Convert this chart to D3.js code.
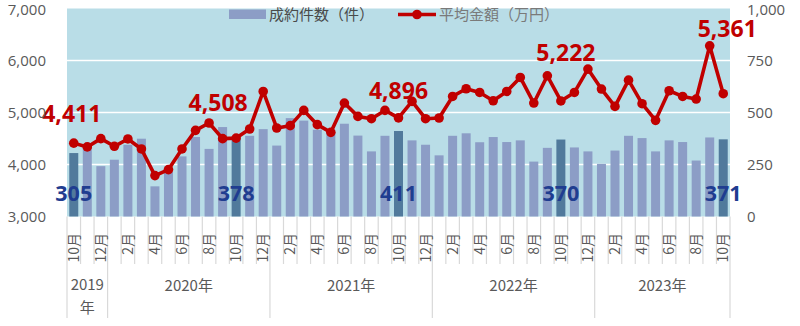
<!DOCTYPE html>
<html><head><meta charset="utf-8">
<script src="https://cdn.jsdelivr.net/npm/d3@7/dist/d3.min.js"></script>
<style>
html,body{margin:0;padding:0;background:#fff;}
svg{display:block;}
</style></head>
<body>
<svg id="chart" width="800" height="326"></svg>
<script>
const months = ["10月","11月","12月",
  "1月","2月","3月","4月","5月","6月","7月","8月","9月","10月","11月","12月",
  "1月","2月","3月","4月","5月","6月","7月","8月","9月","10月","11月","12月",
  "1月","2月","3月","4月","5月","6月","7月","8月","9月","10月","11月","12月",
  "1月","2月","3月","4月","5月","6月","7月","8月","9月","10月"];
const counts = [305,330,242,273,345,374,145,215,289,382,325,430,378,
  388,420,341,473,461,417,402,446,389,313,388,411,
  366,345,294,388,400,357,382,358,366,264,330,370,
  332,313,253,317,388,377,313,366,358,269,380,371];
const prices = [4411,4338,4497,4350,4491,4299,3787,3902,4299,4657,4798,4497,4508,
  4683,5405,4702,4747,5040,4766,4618,5182,4925,4881,5040,4896,
  5213,4881,4894,5309,5457,5386,5226,5405,5674,5182,5706,5222,
  5386,5835,5451,5117,5622,5169,4849,5418,5309,5259,6282,5361];
const yearLabels = [["2019","年"],["2020年"],["2021年"],["2022年"],["2023年"]];
const yearStarts = [0,3,15,27,39];
const leftTicks = [3000,4000,5000,6000,7000];
const rightTicks = [0,250,500,750,1000];
const highlightIdx = [0,12,24,36,48];
// label offsets (styling only)
const priceLabelOffsets = [[-2,-21],[-18,-27],[0,-19],[5,-40],[4,-57]];

const W = 800, H = 326;
const m = {left:67, right:70, top:8.5, bottom:109.5};
const x0 = m.left, x1 = W - m.right, yTop = m.top, yBot = H - m.bottom;
const svg = d3.select("#chart");
const idx = d3.range(months.length);
const x = d3.scaleBand().domain(idx).range([x0,x1]).paddingInner(0.335).paddingOuter(0.1675);
const xb = d3.scaleBand().domain(idx).range([x0,x1]);
const yL = d3.scaleLinear().domain([3000,7000]).range([yBot,yTop]);
const yR = d3.scaleLinear().domain([0,1000]).range([yBot,yTop]);

const numFont = "'Open Sans', 'Noto Sans', sans-serif";
const jpFont = "'Noto Sans CJK JP', 'Noto Sans', sans-serif";

// plot background
svg.append("rect").attr("x",x0).attr("y",yTop).attr("width",x1-x0).attr("height",yBot-yTop).attr("fill","#B9DDE7");
// gridlines
svg.append("g").selectAll("line").data(leftTicks.slice(1,4)).join("line")
  .attr("x1",x0).attr("x2",x1).attr("y1",d=>yL(d)).attr("y2",d=>yL(d))
  .attr("stroke","#ffffff").attr("stroke-width",1.6);

// bars
svg.append("g").selectAll("rect").data(idx).join("rect")
  .attr("x",i=>x(i)).attr("width",x.bandwidth())
  .attr("y",i=>yR(counts[i])).attr("height",i=>yR(0)-yR(counts[i]))
  .attr("fill",i=>highlightIdx.includes(i)?"#517A9C":"#8C9DC6");

// line
const line = d3.line().x(i=>xb(i)+xb.bandwidth()/2).y(i=>yL(prices[i]));
svg.append("path").datum(idx).attr("d",line).attr("fill","none")
  .attr("stroke","#C00000").attr("stroke-width",3.6).attr("stroke-linejoin","round");
svg.append("g").selectAll("circle").data(idx).join("circle")
  .attr("cx",i=>xb(i)+xb.bandwidth()/2).attr("cy",i=>yL(prices[i])).attr("r",4.8)
  .attr("fill","#C00000");

// price labels
svg.append("g").selectAll("text").data(highlightIdx).join("text")
  .attr("x",(i,k)=>xb(i)+xb.bandwidth()/2+priceLabelOffsets[k][0])
  .attr("y",(i,k)=>yL(prices[i])+priceLabelOffsets[k][1])
  .attr("text-anchor","middle").attr("font-family",numFont).attr("font-weight","bold")
  .attr("font-size",23).attr("fill","#C00000")
  .text(i=>d3.format(",")(prices[i]));

// count labels
svg.append("g").selectAll("text").data(highlightIdx).join("text")
  .attr("x",i=>xb(i)+xb.bandwidth()/2)
  .attr("y",yR(0)-15.5)
  .attr("text-anchor","middle").attr("font-family",numFont).attr("font-weight","bold")
  .attr("font-size",21.5).attr("fill","#1F3D90")
  .text(i=>d3.format(",")(counts[i]));

// left axis labels
svg.append("g").selectAll("text").data(leftTicks).join("text")
  .attr("x",46).attr("y",d=>Math.max(yL(d)+5.5,15)).attr("text-anchor","end")
  .attr("font-family",numFont).attr("font-size",15).attr("fill","#595959")
  .text(d=>d3.format(",")(d));
// right axis labels
svg.append("g").selectAll("text").data(rightTicks).join("text")
  .attr("x",747).attr("y",d=>Math.max(yR(d)+5.5,14.5)).attr("text-anchor","start")
  .attr("font-family",numFont).attr("font-size",15).attr("fill","#595959")
  .text(d=>d3.format(",")(d));

// category tick lines
const bounds = d3.range(months.length+1);
svg.append("g").selectAll("line").data(bounds).join("line")
  .attr("x1",b=>x0+b*xb.step()).attr("x2",b=>x0+b*xb.step())
  .attr("y1",yBot).attr("y2",b=>(yearStarts.includes(b)||b===months.length)?318:264)
  .attr("stroke","#D9D9D9").attr("stroke-width",1.2);

// month labels
svg.append("g").selectAll("text").data(idx.filter(i=>i%2===0)).join("text")
  .attr("transform",i=>`translate(${xb(i)+xb.bandwidth()/2+5},233) rotate(-90)`)
  .attr("text-anchor","end").attr("font-family",jpFont).attr("font-size",14).attr("fill","#595959")
  .text(i=>months[i]);

// year labels
const yearEnds = yearStarts.slice(1).concat([months.length]);
yearLabels.forEach((lab,k)=>{
  const cx = x0 + (yearStarts[k]+yearEnds[k])/2*xb.step();
  lab.forEach((t,j)=>{
    svg.append("text").attr("x",cx).attr("y",lab.length>1?290+j*23:291)
      .attr("text-anchor","middle").attr("font-family",jpFont).attr("font-size",15).attr("fill","#595959")
      .text(t);
  });
});

// legend
const lg = svg.append("g");
lg.append("rect").attr("x",229).attr("y",9.5).attr("width",37).attr("height",9.5).attr("fill","#8C9DC6");
lg.append("text").attr("x",269).attr("y",20).attr("font-family",jpFont).attr("font-size",15).attr("fill","#4a4a4a").text("成約件数（件）");
lg.append("line").attr("x1",398).attr("x2",436).attr("y1",14.5).attr("y2",14.5).attr("stroke","#C00000").attr("stroke-width",3.6);
lg.append("circle").attr("cx",417).attr("cy",14.5).attr("r",4.8).attr("fill","#C00000");
lg.append("text").attr("x",439).attr("y",20).attr("font-family",jpFont).attr("font-size",15).attr("fill","#7a7a7a").text("平均金額（万円）");
</script>
</body></html>
